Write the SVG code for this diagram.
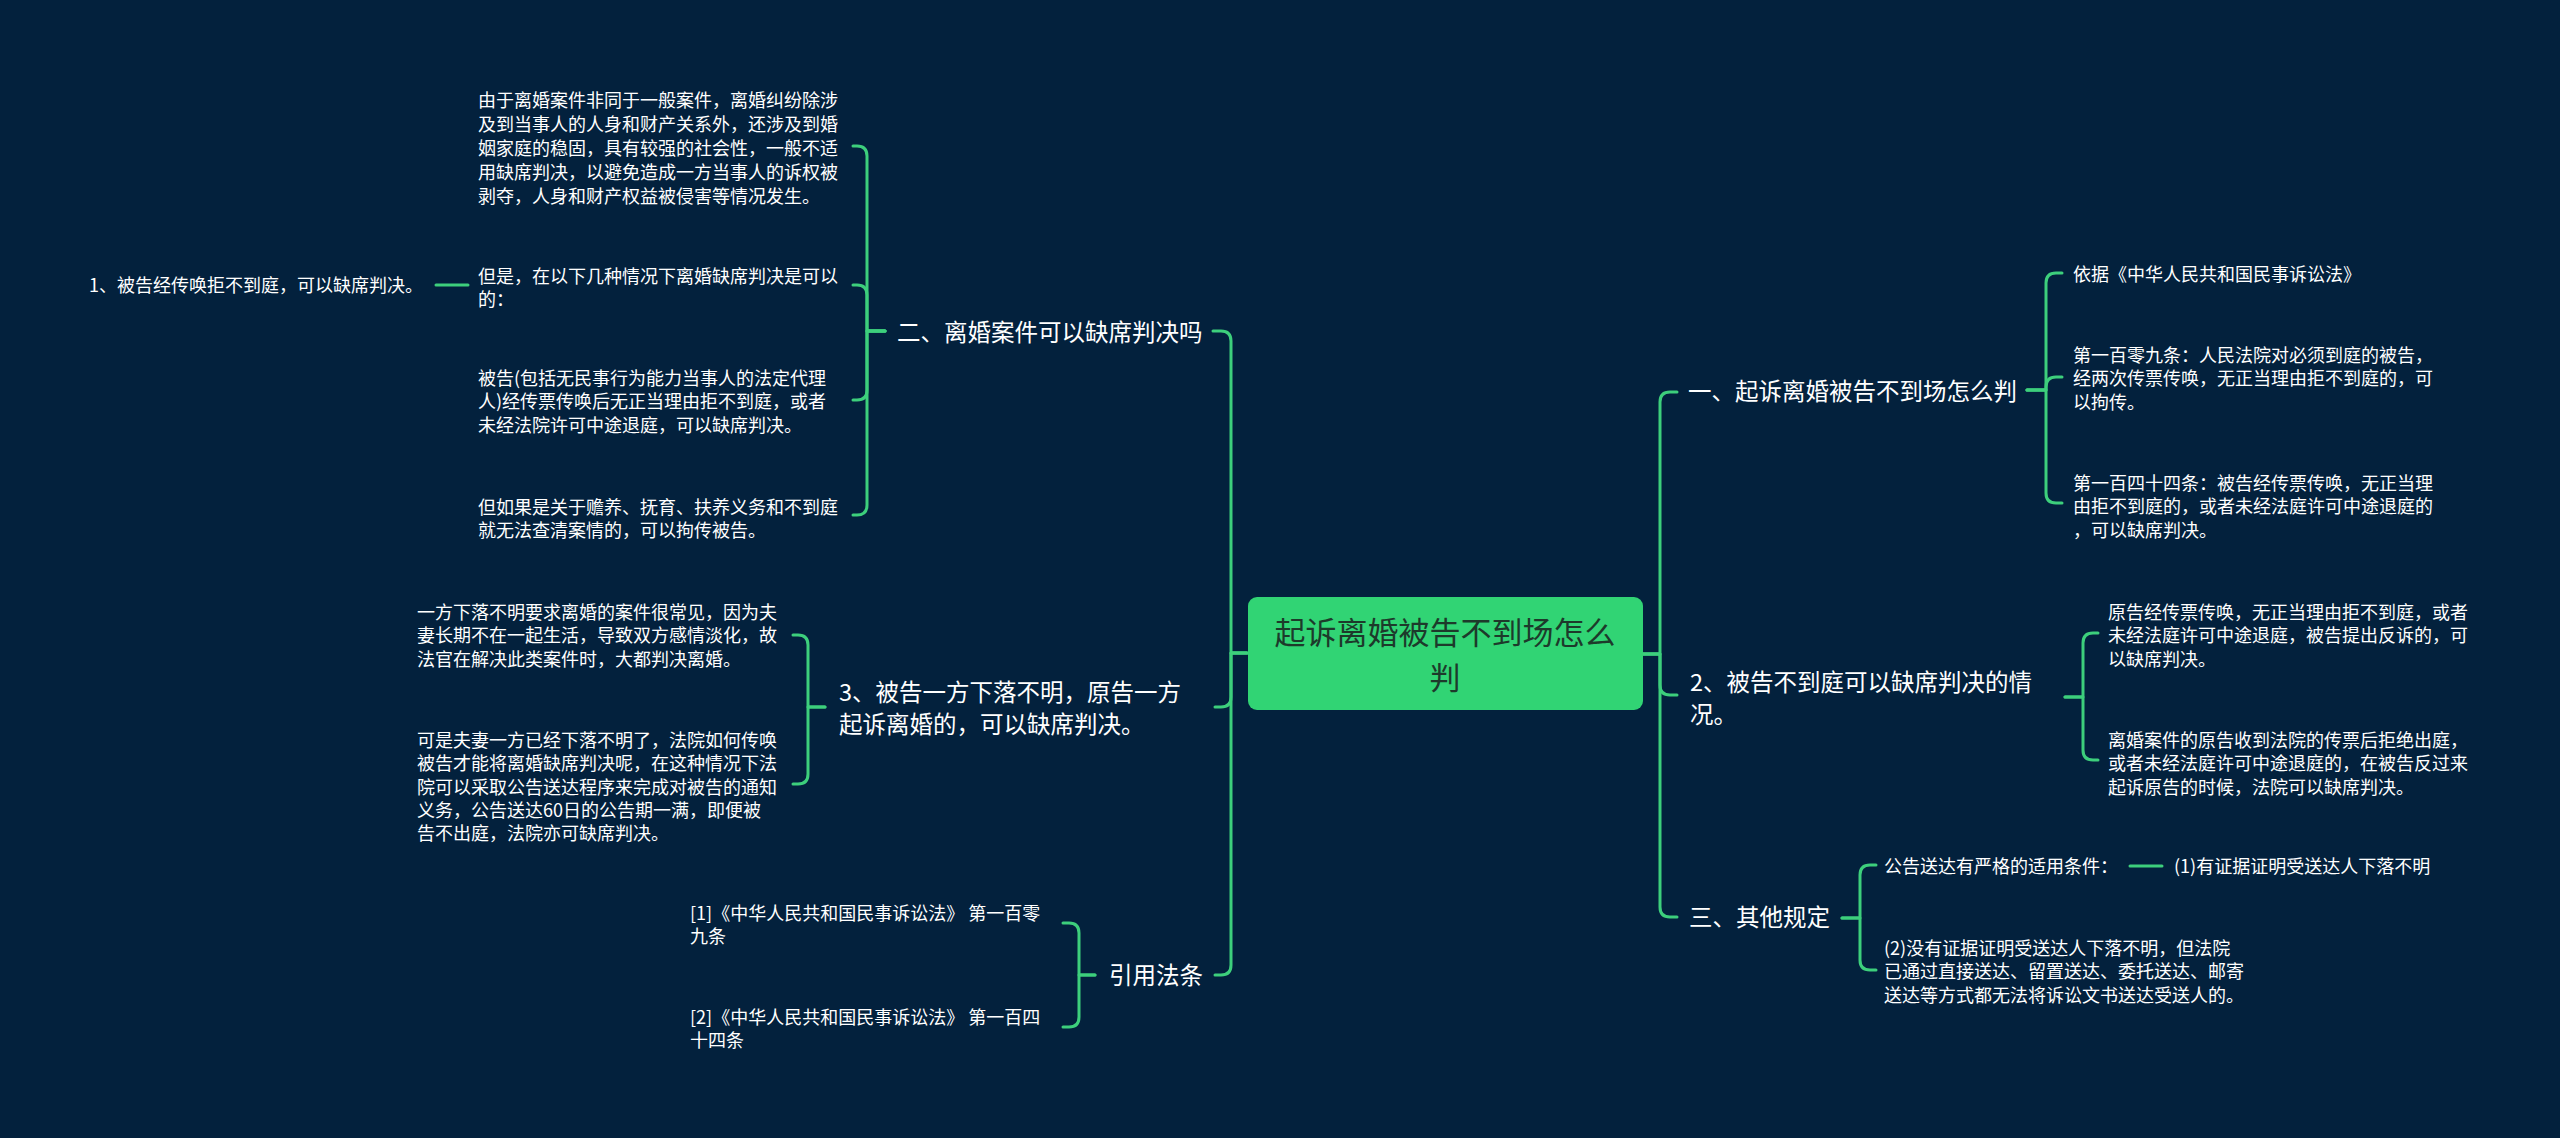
<svg xmlns="http://www.w3.org/2000/svg" width="2560" height="1138" viewBox="0 0 2560 1138">
<style>
.bg{fill:#03213d}
.c{fill:none;stroke:#3dcf7c;stroke-width:3;stroke-linecap:round;stroke-linejoin:round}
.root{fill:#31d474}
.rt{font-family:"Noto Sans CJK SC","Noto Sans",sans-serif;font-size:31px;fill:#1d3a2b;text-anchor:middle}
.l2{font-family:"Noto Sans CJK SC","Noto Sans",sans-serif;font-size:23.5px;fill:#ffffff}
.l3{font-family:"Noto Sans CJK SC","Noto Sans",sans-serif;font-size:18px;fill:#ffffff}
</style>
<rect class="bg" x="0" y="0" width="2560" height="1138"/>
<g id="connectors">
<path class="c" d="M1247 653 H1231 V341 Q1231 331 1221 331 H1213"/>
<path class="c" d="M1247 653 H1231 V697 Q1231 707 1221 707 H1215"/>
<path class="c" d="M1247 653 H1231 V965 Q1231 975 1221 975 H1215"/>
<path class="c" d="M885 331 H867 V156 Q867 146 857 146 H853"/>
<path class="c" d="M885 331 H867 V295 Q867 285 857 285 H853"/>
<path class="c" d="M885 331 H867 V390 Q867 400 857 400 H853"/>
<path class="c" d="M885 331 H867 V505 Q867 515 857 515 H853"/>
<path class="c" d="M468 285 H436"/>
<path class="c" d="M825 707 H808 V645 Q808 635 798 635 H793"/>
<path class="c" d="M825 707 H808 V774 Q808 784 798 784 H793"/>
<path class="c" d="M1095 975 H1079 V933 Q1079 923 1069 923 H1063"/>
<path class="c" d="M1095 975 H1079 V1017 Q1079 1027 1069 1027 H1063"/>
<path class="c" d="M1643 654 H1660 V402 Q1660 392 1670 392 H1677"/>
<path class="c" d="M1643 654 H1660 V685 Q1660 695 1670 695 H1677"/>
<path class="c" d="M1643 654 H1660 V907 Q1660 917 1670 917 H1677"/>
<path class="c" d="M2027 390 H2046 V283 Q2046 273 2056 273 H2062"/>
<path class="c" d="M2027 390 H2046 V387 Q2046 377 2056 377 H2062"/>
<path class="c" d="M2027 390 H2046 V493 Q2046 503 2056 503 H2062"/>
<path class="c" d="M2065 697 H2083 V643 Q2083 633 2093 633 H2098"/>
<path class="c" d="M2065 697 H2083 V750 Q2083 760 2093 760 H2098"/>
<path class="c" d="M1842 918 H1860 V875 Q1860 865 1870 865 H1876"/>
<path class="c" d="M1842 918 H1860 V960 Q1860 970 1870 970 H1876"/>
<path class="c" d="M2130 866 H2162"/>
</g>
<g id="root">
<rect class="root" x="1248" y="597" width="395" height="113" rx="9"/>
<text class="rt" x="1445" y="644">起诉离婚被告不到场怎么</text>
<text class="rt" x="1445" y="689">判</text>
</g>
<g id="n-er">
<text class="l2" x="897" y="341">二、离婚案件可以缺席判决吗</text>
</g>
<g id="n-er-1">
<text class="l3" x="478" y="106.5">由于离婚案件非同于一般案件，离婚纠纷除涉</text>
<text class="l3" x="478" y="130.5">及到当事人的人身和财产关系外，还涉及到婚</text>
<text class="l3" x="478" y="154.5">姻家庭的稳固，具有较强的社会性，一般不适</text>
<text class="l3" x="478" y="178.5">用缺席判决，以避免造成一方当事人的诉权被</text>
<text class="l3" x="478" y="202.5">剥夺，人身和财产权益被侵害等情况发生。</text>
</g>
<g id="n-er-2">
<text class="l3" x="478" y="282.5">但是，在以下几种情况下离婚缺席判决是可以</text>
<text class="l3" x="478" y="305.8">的：</text>
</g>
<g id="n-er-2-1">
<text class="l3" x="89" y="292">1、被告经传唤拒不到庭，可以缺席判决。</text>
</g>
<g id="n-er-3">
<text class="l3" x="478" y="385">被告(包括无民事行为能力当事人的法定代理</text>
<text class="l3" x="478" y="408.3">人)经传票传唤后无正当理由拒不到庭，或者</text>
<text class="l3" x="478" y="431.6">未经法院许可中途退庭，可以缺席判决。</text>
</g>
<g id="n-er-4">
<text class="l3" x="478" y="514">但如果是关于赡养、抚育、扶养义务和不到庭</text>
<text class="l3" x="478" y="537.3">就无法查清案情的，可以拘传被告。</text>
</g>
<g id="n-san3">
<text class="l2" x="839" y="701">3、被告一方下落不明，原告一方</text>
<text class="l2" x="839" y="733">起诉离婚的，可以缺席判决。</text>
</g>
<g id="n-san3-1">
<text class="l3" x="417" y="619">一方下落不明要求离婚的案件很常见，因为夫</text>
<text class="l3" x="417" y="642.3">妻长期不在一起生活，导致双方感情淡化，故</text>
<text class="l3" x="417" y="665.6">法官在解决此类案件时，大都判决离婚。</text>
</g>
<g id="n-san3-2">
<text class="l3" x="417" y="747">可是夫妻一方已经下落不明了，法院如何传唤</text>
<text class="l3" x="417" y="770.3">被告才能将离婚缺席判决呢，在这种情况下法</text>
<text class="l3" x="417" y="793.6">院可以采取公告送达程序来完成对被告的通知</text>
<text class="l3" x="417" y="816.9">义务，公告送达60日的公告期一满，即便被</text>
<text class="l3" x="417" y="840.2">告不出庭，法院亦可缺席判决。</text>
</g>
<g id="n-yinyong">
<text class="l2" x="1109" y="984">引用法条</text>
</g>
<g id="n-yinyong-1">
<text class="l3" x="690" y="920">[1]《中华人民共和国民事诉讼法》 第一百零</text>
<text class="l3" x="690" y="943.3">九条</text>
</g>
<g id="n-yinyong-2">
<text class="l3" x="690" y="1024">[2]《中华人民共和国民事诉讼法》 第一百四</text>
<text class="l3" x="690" y="1047.3">十四条</text>
</g>
<g id="n-yi">
<text class="l2" x="1688" y="400">一、起诉离婚被告不到场怎么判</text>
</g>
<g id="n-yi-1">
<text class="l3" x="2073" y="281">依据《中华人民共和国民事诉讼法》</text>
</g>
<g id="n-yi-2">
<text class="l3" x="2073" y="362">第一百零九条：人民法院对必须到庭的被告，</text>
<text class="l3" x="2073" y="385.3">经两次传票传唤，无正当理由拒不到庭的，可</text>
<text class="l3" x="2073" y="408.6">以拘传。</text>
</g>
<g id="n-yi-3">
<text class="l3" x="2073" y="490">第一百四十四条：被告经传票传唤，无正当理</text>
<text class="l3" x="2073" y="513.3">由拒不到庭的，或者未经法庭许可中途退庭的</text>
<text class="l3" x="2073" y="536.6">，可以缺席判决。</text>
</g>
<g id="n-two">
<text class="l2" x="1690" y="691">2、被告不到庭可以缺席判决的情</text>
<text class="l2" x="1690" y="723">况。</text>
</g>
<g id="n-two-1">
<text class="l3" x="2108" y="619">原告经传票传唤，无正当理由拒不到庭，或者</text>
<text class="l3" x="2108" y="642.3">未经法庭许可中途退庭，被告提出反诉的，可</text>
<text class="l3" x="2108" y="665.6">以缺席判决。</text>
</g>
<g id="n-two-2">
<text class="l3" x="2108" y="747">离婚案件的原告收到法院的传票后拒绝出庭，</text>
<text class="l3" x="2108" y="770.3">或者未经法庭许可中途退庭的，在被告反过来</text>
<text class="l3" x="2108" y="793.6">起诉原告的时候，法院可以缺席判决。</text>
</g>
<g id="n-san">
<text class="l2" x="1689" y="926">三、其他规定</text>
</g>
<g id="n-san-1">
<text class="l3" x="1884" y="873">公告送达有严格的适用条件：</text>
</g>
<g id="n-san-1-1">
<text class="l3" x="2174" y="873">(1)有证据证明受送达人下落不明</text>
</g>
<g id="n-san-2">
<text class="l3" x="1884" y="955">(2)没有证据证明受送达人下落不明，但法院</text>
<text class="l3" x="1884" y="978.3">已通过直接送达、留置送达、委托送达、邮寄</text>
<text class="l3" x="1884" y="1001.6">送达等方式都无法将诉讼文书送达受送人的。</text>
</g>
</svg>
